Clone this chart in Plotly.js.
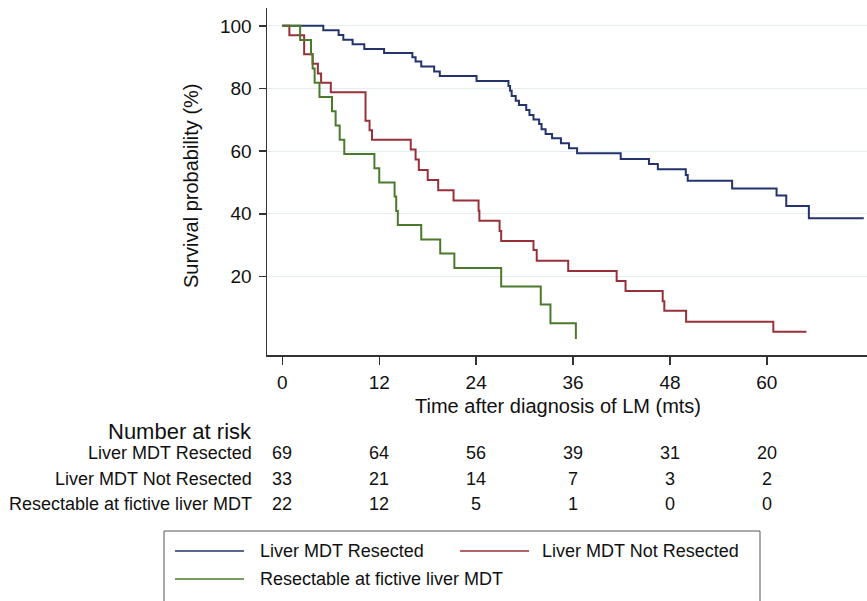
<!DOCTYPE html>
<html>
<head>
<meta charset="utf-8">
<script src="https://cdn.plot.ly/plotly-3.0.1.min.js"></script>
<style>html,body{margin:0;padding:0;background:#fff;}#chart{width:867px;height:601px;}</style>
</head>
<body>
<div id="chart"></div>
<script>
// ---- Data ----
const seriesNames = ["Liver MDT Resected", "Liver MDT Not Resected", "Resectable at fictive liver MDT"];
const seriesColors = ["#24336d", "#98303a", "#4b7a2c"];

const resectedTime = [0, 5.07, 6.97, 7.55, 8.7, 10.15, 12.6, 16.1, 16.5, 17.2, 18.8, 19.5, 24.05, 28.0, 28.2, 28.4, 28.9, 29.3, 30.2, 30.6, 31.1, 31.8, 32.1, 32.6, 33.4, 34.5, 35.5, 36.5, 41.9, 45.4, 46.5, 49.96, 50.2, 55.7, 61.2, 62.4, 65.2, 72.0];
const resectedSurv = [100, 98.6, 97.1, 95.6, 94.1, 92.6, 91.3, 90.0, 88.6, 87.0, 85.4, 84.0, 82.4, 80.8, 79.3, 77.6, 76.1, 74.7, 73.1, 71.5, 70.1, 68.7, 67.0, 65.5, 64.1, 62.5, 60.9, 59.3, 57.5, 55.9, 54.2, 52.4, 50.5, 48.1, 45.8, 42.5, 38.6, 38.6];

const notResectedTime = [0, 0.87, 2.7, 3.75, 4.4, 4.8, 6.0, 10.3, 10.8, 11.1, 15.9, 16.5, 16.9, 18.0, 19.3, 21.2, 24.3, 24.4, 26.9, 27.1, 31.1, 31.5, 35.4, 41.4, 42.5, 47.1, 47.3, 50.0, 60.8, 64.9];
const notResectedSurv = [100, 97.0, 90.9, 87.9, 84.8, 81.8, 78.8, 69.7, 66.7, 63.6, 60.5, 57.3, 54.0, 50.8, 47.5, 44.2, 41.0, 37.8, 34.5, 31.3, 28.4, 25.0, 21.7, 18.5, 15.3, 12.1, 9.0, 5.5, 2.3, 2.3];

const fictiveTime = [0, 2.2, 3.55, 3.75, 4.0, 4.6, 6.15, 6.6, 7.1, 7.67, 11.4, 12.0, 13.9, 14.1, 14.3, 17.2, 19.55, 21.3, 27.1, 32.0, 33.2, 36.35];
const fictiveSurv = [100, 95.5, 90.9, 86.4, 81.8, 77.3, 72.7, 68.2, 63.6, 59.1, 54.5, 50.0, 45.5, 40.9, 36.4, 31.8, 27.3, 22.7, 16.8, 11.0, 5.0, 0];

const xTicks = [0, 12, 24, 36, 48, 60];
const yTicks = [20, 40, 60, 80, 100];
const riskTimes = [0, 12, 24, 36, 48, 60];
const riskResected = [69, 64, 56, 39, 31, 20];
const riskNotResected = [33, 21, 14, 7, 3, 2];
const riskFictive = [22, 12, 5, 1, 0, 0];

const xTitle = "Time after diagnosis of LM (mts)";
const yTitle = "Survival probability (%)";
const riskHeader = "Number at risk";

// ---- Build figure ----
const FONT = "Liberation Sans, Arial, Helvetica, sans-serif";
const times = [resectedTime, notResectedTime, fictiveTime];
const survs = [resectedSurv, notResectedSurv, fictiveSurv];
const risks = [riskResected, riskNotResected, riskFictive];

const traces = seriesNames.map((n, i) => ({
  type: "scatter", mode: "lines", name: n,
  x: times[i], y: survs[i],
  line: {shape: "hv", color: seriesColors[i], width: 2},
  showlegend: false, hoverinfo: "skip"
}));

// pixel helpers for paper coords (plot area: x 267..867, y 8..355)
const L = 267, R = 0, T = 8, B = 246, W = 867, H = 601;
const pw = W - L - R, ph = H - T - B;
const px = x => (x - L) / pw;
const py = y => (H - B - y) / ph;

const annotations = [];
annotations.push({xref: "paper", yref: "paper", x: px(558), y: py(406), text: xTitle, showarrow: false,
  xanchor: "center", yanchor: "middle", font: {family: FONT, size: 20, color: "#111"}});
annotations.push({xref: "paper", yref: "paper", x: px(191), y: py(186), text: yTitle, showarrow: false,
  textangle: -90, xanchor: "center", yanchor: "middle", font: {family: FONT, size: 20, color: "#111"}});
annotations.push({xref: "paper", yref: "paper", x: px(254), y: py(431), text: riskHeader, showarrow: false,
  xanchor: "right", yanchor: "middle", font: {family: FONT, size: 22, color: "#111"}});
const rowY = [453, 479, 504];
seriesNames.forEach((n, i) => {
  annotations.push({xref: "paper", yref: "paper", x: px(254), y: py(rowY[i]), text: n, showarrow: false,
    xanchor: "right", yanchor: "middle", font: {family: FONT, size: 18, color: "#111"}});
  riskTimes.forEach((t, j) => {
    annotations.push({xref: "x", yref: "paper", x: t, y: py(rowY[i]), text: String(risks[i][j]), showarrow: false,
      xanchor: "center", yanchor: "middle", font: {family: FONT, size: 18, color: "#111"}});
  });
});

// legend drawn manually
const shapes = [];
shapes.push({type: "rect", xref: "paper", yref: "paper", x0: px(164), x1: px(760), y0: py(531), y1: py(640),
  line: {color: "#555", width: 1}, fillcolor: "rgba(0,0,0,0)"});
const legPos = [{x: 175, y: 551, tx: 258}, {x: 460, y: 551, tx: 540}, {x: 175, y: 579, tx: 258}];
seriesNames.forEach((n, i) => {
  const p = legPos[i];
  shapes.push({type: "line", xref: "paper", yref: "paper", x0: px(p.x), x1: px(p.x + 69), y0: py(p.y), y1: py(p.y),
    line: {color: seriesColors[i], width: 1.5}});
  annotations.push({xref: "paper", yref: "paper", x: px(p.tx), y: py(p.y), text: n, showarrow: false,
    xanchor: "left", yanchor: "middle", font: {family: FONT, size: 18, color: "#111"}});
});

const layout = {
  width: W, height: H,
  margin: {l: L, r: R, t: T, b: B, pad: 0},
  paper_bgcolor: "#fff", plot_bgcolor: "#fff",
  showlegend: false,
  font: {family: FONT, color: "#111"},
  xaxis: {
    range: [-1.9, 72.4], tickvals: xTicks, ticktext: xTicks.map(String),
    showgrid: false, zeroline: false, showline: true, linecolor: "#333", linewidth: 1.5,
    ticks: "outside", ticklen: 8, tickwidth: 1.5, tickcolor: "#333",
    tickfont: {family: FONT, size: 19, color: "#111"}, ticklabelstandoff: 2
  },
  yaxis: {
    range: [-5.1, 105.7], tickvals: yTicks, ticktext: yTicks.map(String),
    showgrid: true, gridcolor: "#e4eef1", gridwidth: 1, zeroline: false,
    showline: true, linecolor: "#333", linewidth: 1.5,
    ticks: "outside", ticklen: 7, tickwidth: 1.5, tickcolor: "#333",
    tickfont: {family: FONT, size: 19, color: "#111"}, ticklabelstandoff: 3
  },
  annotations: annotations,
  shapes: shapes
};

Plotly.newPlot("chart", traces, layout, {staticPlot: true, displayModeBar: false});
</script>
</body>
</html>
